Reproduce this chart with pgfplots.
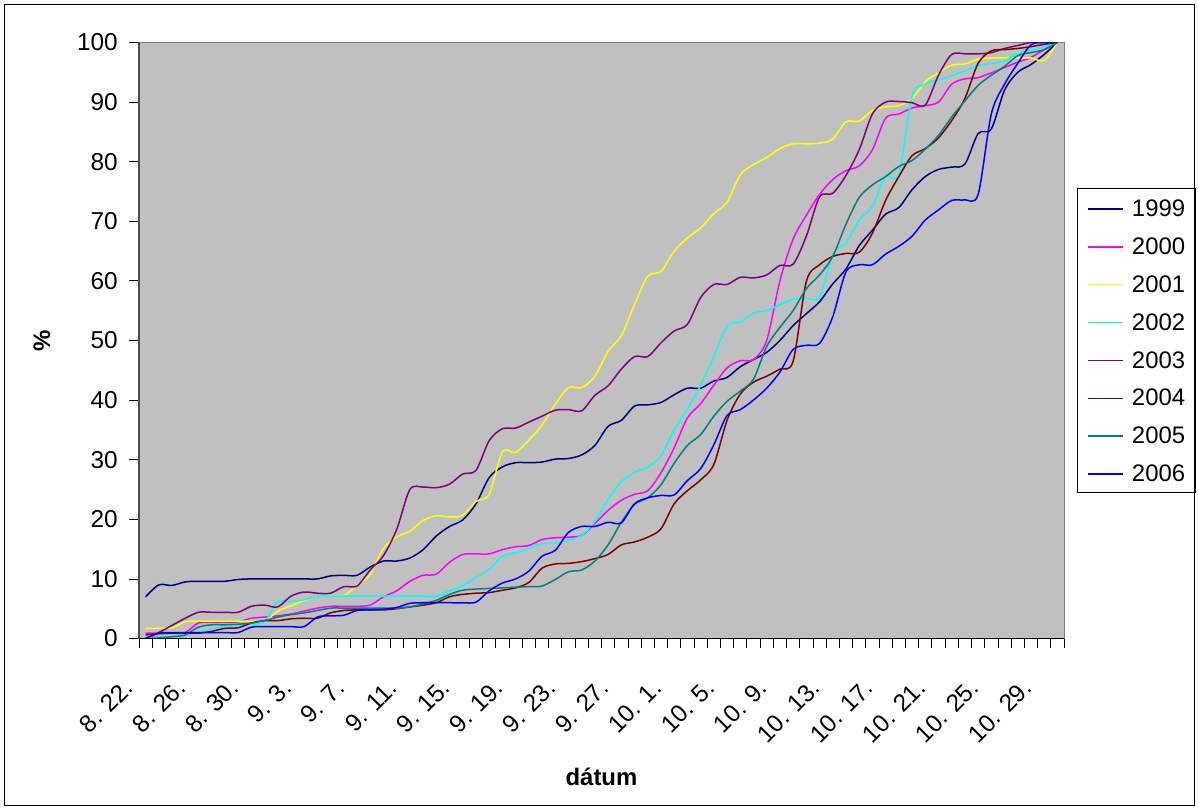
\documentclass[border=0pt]{standalone}
\usepackage{fontspec}
\setmainfont{Liberation Sans}
\usepackage{pgfplots}
\usepackage{pgfplotstable}
\pgfplotsset{compat=1.18}
\definecolor{c1999}{RGB}{0,0,128}
\definecolor{c2000}{RGB}{255,0,255}
\definecolor{c2001}{RGB}{255,255,0}
\definecolor{c2002}{RGB}{0,255,255}
\definecolor{c2003}{RGB}{128,0,128}
\definecolor{c2004}{RGB}{128,0,0}
\definecolor{c2005}{RGB}{0,128,128}
\definecolor{c2006}{RGB}{0,0,255}
\definecolor{plotbg}{RGB}{192,192,192}
\definecolor{axgray}{RGB}{128,128,128}

\pgfplotstableread{
i  a     b     c     d     e     f     g     h
0  7.0   0.9   1.7   0.3   0.0   0.6   0.0   0.0
1  9.0   0.9   1.7   0.3   1.0   0.8   0.1   0.9
2  8.9   0.9   1.8   0.4   2.2   0.9   0.3   1.0
3  9.5   1.0   2.8   0.6   3.4   0.9   0.6   1.0
4  9.6   2.6   2.9   1.1   4.4   0.9   1.9   1.0
5  9.6   2.7   2.9   1.6   4.4   1.2   2.3   1.0
6  9.6   2.7   2.9   2.0   4.4   1.7   2.3   1.0
7  9.9   2.8   2.9   2.2   4.4   1.8   2.4   1.0
8  10.0  3.4   2.9   2.4   5.4   2.6   2.6   1.9
9  10.0  3.6   2.9   2.8   5.6   3.0   3.0   2.0
10 10.0  3.8   4.6   6.2   5.3   3.0   3.6   2.0
11 10.0  4.1   5.5   6.2   7.1   3.3   4.0   2.0
12 10.0  4.6   6.4   6.5   7.8   3.4   4.3   2.0
13 10.0  5.1   7.1   7.1   7.6   3.4   4.7   3.6
14 10.5  5.4   7.2   7.1   7.6   4.3   5.1   3.8
15 10.6  5.4   7.2   7.1   8.7   4.7   5.1   3.9
16 10.6  5.4   8.9   7.1   8.8   4.8   5.1   4.7
17 12.0  5.6   10.8  7.1   11.5  4.8   5.1   4.8
18 13.0  7.0   15.1  7.1   13.9  4.8   5.1   4.9
19 13.0  8.0   17.0  7.1   18.3  5.0   5.1   5.2
20 13.5  9.6   18.0  7.1   25.0  5.3   5.3   5.9
21 14.9  10.6  19.8  7.1   25.4  5.6   5.8   6.0
22 17.2  10.8  20.6  7.1   25.3  6.0   6.4   6.0
23 18.8  12.8  20.4  8.0   25.9  7.0   7.4   6.0
24 19.9  14.1  20.7  8.9   27.6  7.4   8.1   6.0
25 22.6  14.2  23.0  10.2  28.2  7.6   8.3   6.1
26 27.0  14.2  24.2  11.6  33.2  7.7   8.4   8.0
27 28.8  14.9  31.3  13.8  35.2  8.1   8.5   9.3
28 29.5  15.4  31.2  14.4  35.3  8.5   8.6   10.0
29 29.5  15.6  33.3  15.1  36.3  9.4   8.7   11.3
30 29.6  16.6  35.8  15.9  37.3  11.8  8.8   13.8
31 30.1  16.9  39.3  16.0  38.3  12.5  9.9   14.8
32 30.2  17.0  42.1  16.5  38.4  12.6  11.2  17.8
33 30.8  17.3  42.1  17.3  38.2  12.9  11.5  18.8
34 32.4  19.3  44.0  19.6  40.8  13.4  13.0  18.8
35 35.6  21.5  48.2  23.3  42.4  14.1  15.7  19.5
36 36.6  23.2  50.8  26.3  45.2  15.7  19.5  19.4
37 39.0  24.2  56.0  27.9  47.3  16.2  22.5  22.6
38 39.2  24.8  60.8  28.8  47.3  17.0  23.6  23.6
39 39.6  27.8  61.6  30.6  49.6  18.4  25.8  24.0
40 40.9  32.0  65.0  35.0  51.6  22.6  29.4  24.1
41 42.0  37.0  67.2  38.5  52.7  24.8  32.4  26.5
42 42.0  39.4  68.9  42.5  57.2  26.6  34.2  28.5
43 43.2  42.5  71.3  47.3  59.4  29.2  37.3  32.5
44 43.8  45.4  73.2  52.4  59.4  36.6  39.8  37.4
45 45.6  46.6  77.8  53.1  60.6  41.0  41.5  38.4
46 46.8  46.8  79.5  54.6  60.5  43.0  43.5  40.0
47 48.0  50.0  80.7  55.0  61.0  44.0  49.0  42.0
48 50.0  60.0  82.2  56.0  62.6  45.2  52.2  44.7
49 52.5  67.0  83.0  56.9  62.8  46.5  55.0  48.5
50 54.5  71.0  83.0  57.1  67.5  59.9  58.7  49.2
51 56.5  74.5  83.1  57.3  74.1  62.7  61.0  49.5
52 59.5  77.0  83.8  64.5  74.7  64.1  64.1  54.0
53 62.0  78.5  86.7  66.4  77.7  64.6  69.5  61.5
54 65.9  79.3  86.8  70.2  82.0  64.8  74.0  62.7
55 68.5  82.0  88.6  72.5  88.0  68.0  76.1  62.7
56 71.2  87.3  89.2  77.5  90.0  73.5  77.5  64.5
57 72.3  88.0  89.4  77.8  90.1  77.5  79.2  65.8
58 75.3  89.0  90.6  91.0  89.9  81.0  80.2  67.5
59 77.5  89.4  93.4  93.0  89.5  82.2  82.1  70.2
60 78.7  90.0  94.9  93.7  94.5  84.0  84.4  71.9
61 79.1  93.0  96.2  94.4  98.0  86.9  87.5  73.5
62 79.6  93.9  96.4  95.3  98.1  90.6  90.2  73.6
63 84.7  94.1  97.2  96.1  98.1  96.5  92.8  74.5
64 85.5  94.9  97.4  96.5  98.3  98.6  94.5  88.0
65 92.0  95.8  97.4  96.9  99.0  98.8  96.0  93.0
66 95.0  96.7  97.4  98.2  99.5  99.0  97.8  96.5
67 96.3  97.5  97.4  98.7  100   99.3  98.3  99.6
68 98.0  98.8  97.0  99.3  100   99.7  98.8  100
69 100   100   100   100   100   100   100   100
}\datatable

\begin{document}
\begin{tikzpicture}
\begin{axis}[
  scale only axis, width=925bp, height=596bp,
  xmin=-0.5, xmax=69.5, ymin=0, ymax=100,
  axis background/.style={fill=plotbg},
  axis line style={draw=axgray, line width=0.8bp},
  clip mode=individual,
  xtick={0,4,...,68},
  xticklabels={8. 22.,8. 26.,8. 30.,9. 3.,9. 7.,9. 11.,9. 15.,9. 19.,9. 23.,9. 27.,10. 1.,10. 5.,10. 9.,10. 13.,10. 17.,10. 21.,10. 25.,10. 29.},
  minor xtick={-0.5,0.5,...,69.5},
  ytick={0,10,...,100},
  tick align=outside,
  xtick pos=left, ytick pos=left,
  major tick length=10bp, minor tick length=9bp,
  major x tick style={draw=none},
  tick style={black, line width=0.8bp},
  every tick label/.append style={font=\fontsize{24.5}{28}\selectfont},
  /pgf/number format/assume math mode=true,
  yticklabel style={anchor=east, inner sep=0pt, xshift=-11bp},
  xticklabel style={xshift=-11bp, yshift=-41bp, rotate=45, anchor=base east, inner sep=0pt},
  xlabel={\bfseries dátum},
  ylabel={\bfseries\%},
  xlabel style={at={(axis description cs:0.5,-0.2324)}, anchor=center, font=\fontsize{24}{28}\selectfont},
  ylabel style={at={(axis description cs:-0.105,0.5)}, anchor=center, rotate=0, font=\fontsize{24}{28}\selectfont},
  legend style={at={(1,0.5)}, anchor=west, xshift=13bp, draw=black, line width=0.75bp, fill=white,
    font=\fontsize{24}{28}\selectfont, row sep=20.7bp, inner xsep=10bp, inner ysep=11bp,
    nodes={inner sep=0pt, text height=17.2bp, text depth=0bp},
    /tikz/every odd column/.append style={column sep=8bp}},
  legend cell align=left,
  legend image code/.code={\draw[#1, line width=1.6bp] (0bp,-1bp) -- (35bp,-1bp);},
  every axis plot/.append style={line width=1.5bp, smooth},
]
\addplot[c1999] table[x=i,y=a]{\datatable};
\addplot[c2000] table[x=i,y=b]{\datatable};
\addplot[c2001] table[x=i,y=c]{\datatable};
\addplot[c2002] table[x=i,y=d]{\datatable};
\addplot[c2003] table[x=i,y=e]{\datatable};
\addplot[c2004] table[x=i,y=f]{\datatable};
\addplot[c2005] table[x=i,y=g]{\datatable};
\addplot[c2006] table[x=i,y=h]{\datatable};
\legend{1999,2000,2001,2002,2003,2004,2005,2006}
\draw[black!70, line width=2bp] (rel axis cs:0,0) -- (rel axis cs:0,1);
\draw[black, line width=1.2bp] (rel axis cs:0,0) -- (rel axis cs:1,0);
\end{axis}
\draw[black, line width=0.75bp] (-135bp,-166.5bp) rectangle (1055bp,634.5bp);
\path (-139bp,-170.5bp) rectangle (1059bp,638.5bp);
\end{tikzpicture}
\end{document}
